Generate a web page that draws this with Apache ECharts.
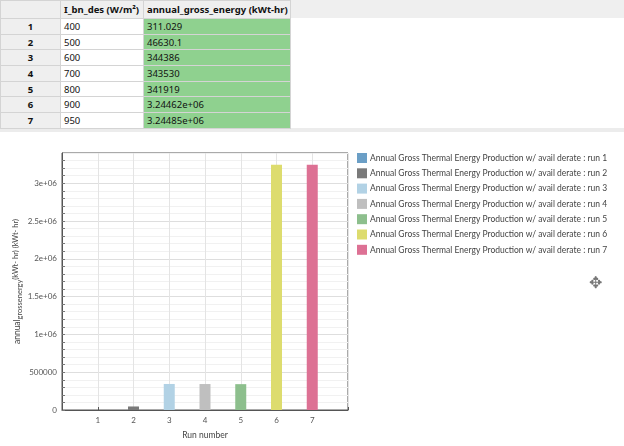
<!DOCTYPE html>
<html>
<head>
<meta charset="utf-8">
<script src="https://cdn.jsdelivr.net/npm/echarts@6/dist/echarts.min.js"></script>
<style>
  body { margin: 0; width: 624px; height: 446px; overflow: hidden; background: #fff; font-family: "Noto Sans", sans-serif; }
  #chart { position: absolute; left: 0; top: 0; width: 624px; height: 446px; }
  #tbl { position: absolute; left: 0; top: 0; width: 624px; height: 132px; background: #fff; z-index: 2; }
  #tbl .hdr { position: absolute; left: 0; top: 0; width: 624px; height: 18px; background: #efefef; }
  #tbl .foot { position: absolute; left: 0; top: 128px; width: 624px; height: 4px; background: #ececec; }
  table { position: absolute; left: 0; top: 0; border-collapse: collapse; table-layout: fixed; font-size: 9.5px; color: #111; }
  td, th { box-sizing: border-box; padding: 0 0 0 3px; border: 1px solid #d4d4d4; white-space: nowrap; text-align: left; overflow: hidden; }
  tr { height: 15.7px; }
  tr.h { height: 18px; }
  th { background: #efefef; font-weight: bold; }
  td.rh { background: #efefef; font-weight: bold; text-align: center; padding: 0; }
  td.g { background: #8fd18f; }
</style>
</head>
<body>
<div id="chart"></div>
<div id="tbl"><div class="hdr"></div><div class="foot"></div><table id="t"></table></div>
<script>
var runs = [1, 2, 3, 4, 5, 6, 7];
var irradiance = [400, 500, 600, 700, 800, 900, 950];
var grossEnergy = [311.029, 46630.1, 344386, 343530, 341919, 3244620, 3244850];
var runColors = ['#6b9fc6', '#7a7a7a', '#b2d2e5', '#bfbfbf', '#8dbf8d', '#dddc6e', '#dd7194'];
var xTicks = [1, 2, 3, 4, 5, 6, 7];

function fmtG(v) {
  var s = Number(v).toPrecision(6);
  if (s.indexOf('e') >= 0) {
    var p = s.split('e');
    var m = p[0].replace(/\.?0+$/, '');
    var ex = parseInt(p[1], 10);
    return m + 'e' + (ex < 0 ? '-' : '+') + (Math.abs(ex) < 10 ? '0' : '') + Math.abs(ex);
  }
  if (s.indexOf('.') >= 0) s = s.replace(/\.?0+$/, '');
  return s;
}

// table
var html = '<colgroup><col style="width:60px"><col style="width:83px"><col style="width:147px"></colgroup>' +
  '<tr class="h"><th></th><th>I_bn_des (W/m\u00b2)</th><th>annual_gross_energy (kWt-hr)</th></tr>';
for (var i = 0; i < runs.length; i++) {
  html += '<tr><td class="rh">' + runs[i] + '</td><td>' + irradiance[i] + '</td><td class="g">' + fmtG(grossEnergy[i]) + '</td></tr>';
}
document.getElementById('t').innerHTML = html;

var series = runs.map(function (r, i) {
  return {
    name: 'Annual Gross Thermal Energy Production w/ avail derate : run ' + r,
    type: 'bar',
    barWidth: 11,
    barGap: '-100%',
    itemStyle: { color: runColors[i] },
    data: [[r, grossEnergy[i]]]
  };
});

var chart = echarts.init(document.getElementById('chart'));
chart.setOption({
  animation: false,
  textStyle: { fontFamily: 'Lato' },
  legend: {
    orient: 'vertical',
    left: 352,
    top: 148,
    itemWidth: 10,
    itemHeight: 10,
    itemGap: 5.3,
    icon: 'rect',
    textStyle: { fontSize: 8.5, color: '#444', fontFamily: 'Lato', padding: [0, 0, 0, -2] },
    data: series.map(function (s) { return s.name; })
  },
  grid: {
    left: 62, top: 153, right: 276, bottom: 36,
    show: true, borderColor: '#555', borderWidth: 1
  },
  xAxis: {
    type: 'value',
    min: 0, max: 8, interval: 1,
    name: 'Run number',
    nameLocation: 'middle',
    nameGap: 21,
    nameTextStyle: { fontSize: 8.5, color: '#444' },
    axisLine: { lineStyle: { color: '#555' } },
    axisTick: { inside: true, length: 3, lineStyle: { color: '#555' } },
    axisLabel: {
      fontSize: 8, color: '#555', margin: 6,
      formatter: function (v) { return xTicks.indexOf(v) >= 0 ? String(v) : ''; }
    },
    splitLine: { show: true, lineStyle: { color: '#e4e4e4' } }
  },
  yAxis: {
    type: 'value',
    min: 0, max: 3400000, interval: 100000,
    name: '{a|annual}{b|grossenergy}{c|(kWt- hr) (kWt- hr)}',
    nameLocation: 'middle',
    nameGap: 38,
    nameRotate: 90,
    nameTextStyle: {
      color: '#444',
      rich: {
        a: { fontSize: 8.5, color: '#444' },
        b: { fontSize: 7.5, color: '#444', padding: [5, 0, 0, 0] },
        c: { fontSize: 7.5, color: '#444', padding: [0, 0, 4, 0] }
      }
    },
    axisLine: { show: true, lineStyle: { color: '#555' } },
    axisTick: { show: true, inside: true, length: 3, lineStyle: { color: '#777' } },
    axisLabel: {
      fontSize: 8, color: '#555', margin: 5, showMaxLabel: false,
      formatter: function (v) {
        if (v % 500000 !== 0) return '';
        return v >= 1000000 ? (v / 1000000) + 'e+06' : String(v);
      }
    },
    splitLine: { show: true, lineStyle: { color: ['#dedede', '#f1f1f1', '#f1f1f1', '#f1f1f1', '#f1f1f1'] } }
  },
  graphic: [{
    type: 'text', left: 589, top: 276,
    style: { text: '\u2725', fontSize: 16, fill: '#777', fontFamily: 'DejaVu Sans' }
  }],
  series: series
});
</script>
</body>
</html>
